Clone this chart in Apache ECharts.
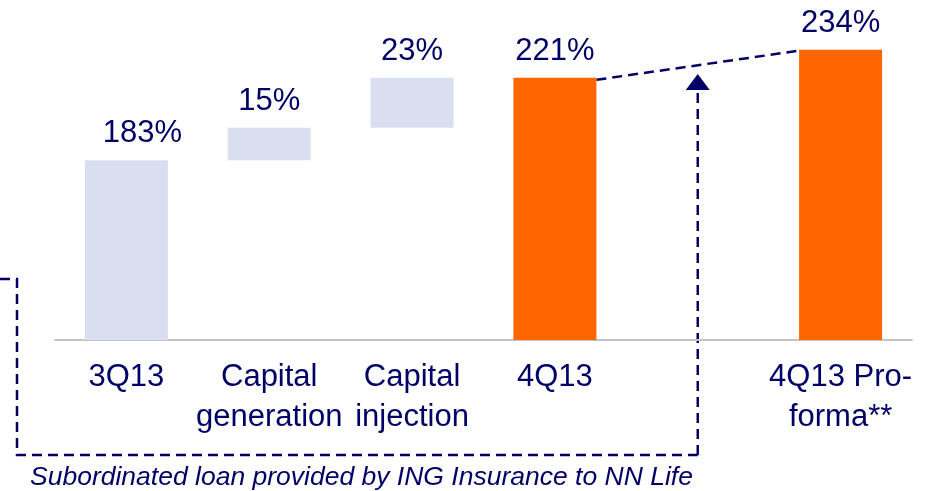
<!DOCTYPE html>
<html>
<head>
<meta charset="utf-8">
<script src="https://cdn.jsdelivr.net/npm/echarts@6/dist/echarts.min.js"></script>
<style>
  html, body { margin: 0; padding: 0; background: #fff; }
  #main { width: 926px; height: 491px; }
</style>
</head>
<body>
<div id="main"></div>
<script>
// waterfall data (solvency ratio, %)
var categories = ['3Q13', 'Capital\ngeneration', 'Capital\ninjection', '4Q13', '', '4Q13 Pro-\nforma**'];
var baseValues = [0, 183, 198, 0, '-', 0];       // invisible part of the stack
var stepValues = [183, 15, 23, 221, '-', 234];    // visible bar
var isTotal    = [true, false, false, true, false, true];
var footnote = 'Subordinated loan provided by ING Insurance to NN Life';

var NAVY = '#000066';
var LIGHT = '#d9dfee';
var ORANGE = '#ff6600';
var FONT = 'Liberation Sans, Arial, sans-serif';
var BAR_W = 83;

var myChart = echarts.init(document.getElementById('main'));

var stepData = stepValues.map(function (v, i) {
    if (v === '-') return v;
    var item = {
        value: v,
        itemStyle: { color: isTotal[i] && i > 0 ? ORANGE : LIGHT }
    };
    if (i === 0) item.label = { offset: [16, 0] };
    return item;
});

var option = {
    animation: false,
    grid: { left: 55, right: 14, top: 15, bottom: 151 },
    xAxis: {
        type: 'category',
        data: categories,
        axisTick: { show: false },
        axisLine: { lineStyle: { color: '#c4c4c4', width: 2 } },
        axisLabel: {
            interval: 0,
            margin: 17,
            color: NAVY,
            fontFamily: FONT,
            fontSize: 31,
            lineHeight: 40
        }
    },
    yAxis: {
        type: 'value',
        min: 100,
        max: 250,
        show: false,
        splitLine: { show: false }
    },
    series: [
        {
            type: 'bar',
            stack: 'wf',
            barWidth: BAR_W,
            silent: true,
            itemStyle: { color: 'transparent' },
            data: baseValues
        },
        {
            type: 'bar',
            stack: 'wf',
            barWidth: BAR_W,
            data: stepData,
            label: {
                show: true,
                position: 'top',
                distance: 11,
                color: NAVY,
                fontFamily: FONT,
                fontSize: 31,
                formatter: function (p) { return p.value + '%'; }
            }
        }
    ]
};
myChart.setOption(option);

// annotations: connector between the two totals, arrow and bracket
var half = BAR_W / 2;
var p4 = myChart.convertToPixel({ seriesIndex: 1 }, [3, stepValues[3]]);
var p6 = myChart.convertToPixel({ seriesIndex: 1 }, [5, stepValues[5]]);
var ax = myChart.convertToPixel({ xAxisIndex: 0 }, 4);
var dash = { stroke: NAVY, lineWidth: 2.5, lineDash: [10, 6], fill: null };

myChart.setOption({
    graphic: [
        {
            type: 'line',
            shape: { x1: p4[0] + half, y1: p4[1] + 2, x2: p6[0] - half, y2: p6[1] + 1 },
            style: dash
        },
        {
            type: 'line',
            shape: { x1: ax, y1: 455, x2: ax, y2: 90 },
            style: dash
        },
        {
            type: 'polygon',
            shape: { points: [[ax, 74], [ax - 12, 90], [ax + 12, 90]] },
            style: { fill: NAVY }
        },
        {
            type: 'polyline',
            shape: { points: [[0, 279], [17, 279], [17, 455], [ax, 455]] },
            style: dash
        },
        {
            type: 'text',
            left: 30,
            top: 464,
            style: {
                text: footnote,
                fill: NAVY,
                font: 'italic 26.5px ' + FONT
            }
        }
    ]
});
</script>
</body>
</html>
